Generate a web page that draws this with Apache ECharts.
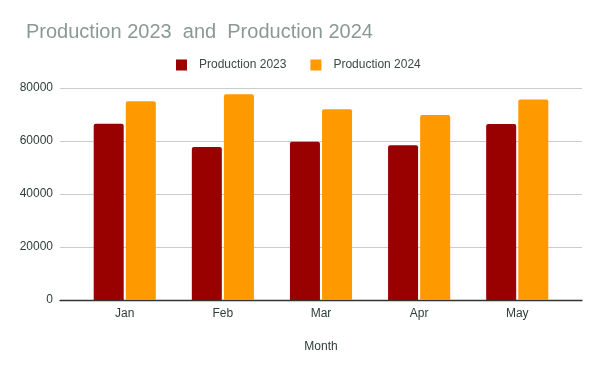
<!DOCTYPE html>
<html><head><meta charset="utf-8">
<script src="https://cdn.jsdelivr.net/npm/echarts@6/dist/echarts.min.js"></script>
<style>html,body{margin:0;padding:0;background:#fff}#c{width:600px;height:371px}</style>
</head><body><div id="c"></div>
<script>
const months = ['Jan','Feb','Mar','Apr','May'];
const prod2023 = [66500, 57700, 59700, 58400, 66400];
const prod2024 = [75000, 77600, 72000, 69800, 75700];
const yTicks = [0, 20000, 40000, 60000, 80000];

const chart = echarts.init(document.getElementById('c'), null, {renderer:'canvas'});
const font = 'Liberation Sans, Arial, sans-serif';
const idx = months.map((m,i)=>i);
chart.setOption({
  animation:false,
  backgroundColor:'#fff',
  title:{text:'Production 2023  and  Production 2024', left:21, top:17,
    textStyle:{fontFamily:font, fontSize:20, fontWeight:'normal', color:'#8b9994'}},
  legend:{top:54, left:171, itemWidth:11, itemHeight:11, itemGap:24,
    icon:'rect',
    textStyle:{fontFamily:font, fontSize:12, color:'#3c4a46', padding:[0,0,0,7]},
    data:['Production 2023','Production 2024']},
  grid:{left:60, right:18, top:88, bottom:71, containLabel:false},
  xAxis:{type:'value', min:-0.66, max:idx.length-1+0.66,
    name:'Month', nameLocation:'middle', nameGap:41,
    nameTextStyle:{fontFamily:font, fontSize:12, color:'#2f3e3a'},
    axisLine:{show:true, onZero:false, lineStyle:{color:'#333', width:1.3}}, axisTick:{show:false},
    splitLine:{show:false},
    axisLabel:{customValues:idx, formatter:v=>months[Math.round(v)],
      fontFamily:font, fontSize:12, color:'#2f3e3a', margin:8}},
  yAxis:{type:'value', min:yTicks[0], max:yTicks[yTicks.length-1], interval:20000,
    axisLine:{show:false}, axisTick:{show:false},
    splitLine:{lineStyle:{color:'#cccccc'}},
    axisLabel:{formatter:v=>String(v), fontFamily:font, fontSize:12, color:'#2f3e3a', margin:7}},
  series:[
    {name:'Production 2023', type:'bar', data:prod2023.map((v,i)=>[idx[i],v]), barWidth:30, barGap:'7%',
      itemStyle:{color:'#990000', borderRadius:[2,2,0,0]}},
    {name:'Production 2024', type:'bar', data:prod2024.map((v,i)=>[idx[i],v]), barWidth:30, barGap:'7%',
      itemStyle:{color:'#ff9900', borderRadius:[2,2,0,0]}}
  ]
});
</script></body></html>
